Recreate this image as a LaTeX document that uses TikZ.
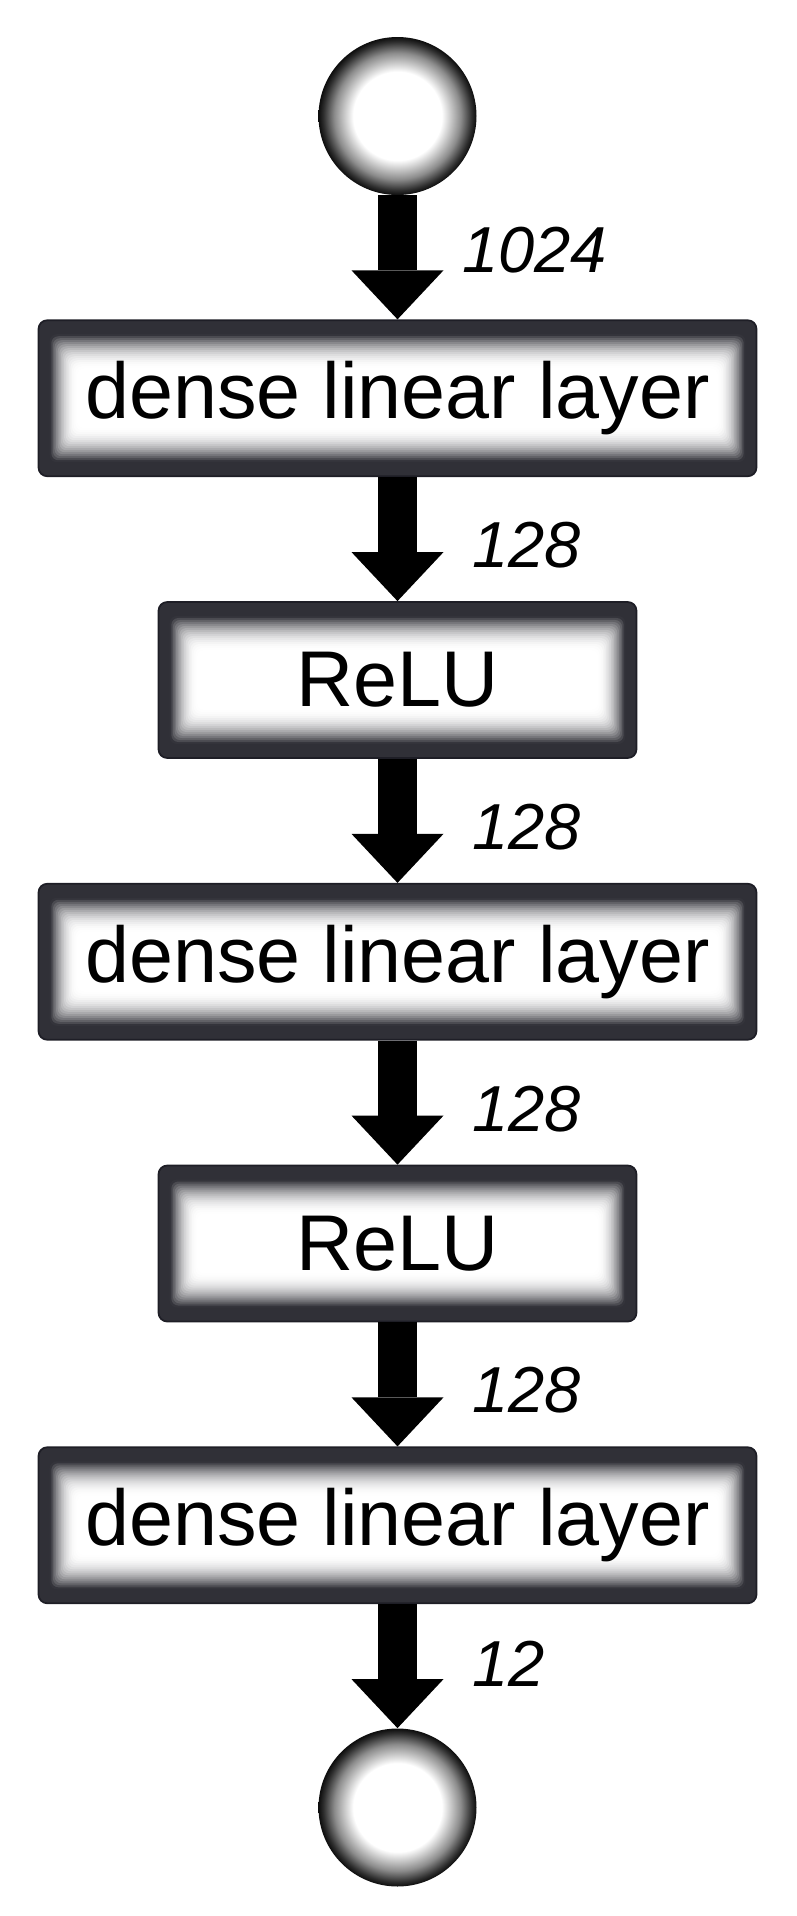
\documentclass[tikz,border=0pt]{standalone}
\usepackage{fontspec}
\setmainfont{Liberation Sans}
\usepackage{tikz}
\usetikzlibrary{arrows.meta, positioning, calc}
\definecolor{mydark}{RGB}{30,30,38}
\pgfdeclareradialshading{orbshade}{\pgfpoint{0bp}{0bp}}{%
  color(0bp)=(white); color(14bp)=(white); color(20bp)=(black!45);
  color(23.5bp)=(black!82); color(25bp)=(black!95); color(50bp)=(black!95)}
\tikzset{
  orb/.style={circle, shading=orbshade, minimum size=3.16cm, inner sep=0pt},
  layer/.style={rectangle, draw=mydark, line width=1pt, rounded corners=5pt,
    minimum height=3.12cm, inner sep=0pt, font=\fontsize{45}{52}\selectfont,
    path picture={
      \foreach \k in {0,...,24}{
        \pgfmathsetmacro\shadeval{92*min(1,(1-\k/24)*1.4)^2}
        \fill[mydark!\shadeval!white, rounded corners=4pt]
          ($(path picture bounding box.south west)+(\k*0.032,\k*0.04)$)
          rectangle ($(path picture bounding box.north east)-(\k*0.032,\k*0.04)$);
      }
    }},
  denselayer/.style={layer, minimum width=14.36cm},
  relulayer/.style={layer, minimum width=9.56cm},
  flow/.style={line width=0.78cm, color=black,
    -{Triangle[width=1.84cm, length=0.98cm, line width=0pt]}},
  dimlabel/.style={font=\fontsize{37}{44}\selectfont\itshape, inner sep=0pt}
}

\begin{document}
\begin{tikzpicture}
  \useasboundingbox (0,0) rectangle (15.92,-38.32);
  % input and layer stack
  \node[orb] (in) at (7.95,-2.32) {};
  \node[denselayer, below=2.48cm of in] (dense1) {dense linear layer};
  \node[relulayer, below=2.48cm of dense1] (relu1) {ReLU};
  \node[denselayer, below=2.48cm of relu1] (dense2) {dense linear layer};
  \node[relulayer, below=2.48cm of dense2] (relu2) {ReLU};
  \node[denselayer, below=2.48cm of relu2] (dense3) {dense linear layer};
  \node[orb, below=2.48cm of dense3] (out) {};
  % connectors with sizes
  \draw[flow] (in) -- node[dimlabel, right=0.9cm, yshift=0.15cm] {1024} (dense1);
  \draw[flow] (dense1) -- node[dimlabel, right=1.1cm, yshift=-0.12cm] {128} (relu1);
  \draw[flow] (relu1) -- node[dimlabel, right=1.1cm, yshift=-0.12cm] {128} (dense2);
  \draw[flow] (dense2) -- node[dimlabel, right=1.1cm, yshift=-0.12cm] {128} (relu2);
  \draw[flow] (relu2) -- node[dimlabel, right=1.1cm, yshift=-0.12cm] {128} (dense3);
  \draw[flow] (dense3) -- node[dimlabel, right=1.1cm, yshift=0.05cm] {12} (out);
\end{tikzpicture}
\end{document}
